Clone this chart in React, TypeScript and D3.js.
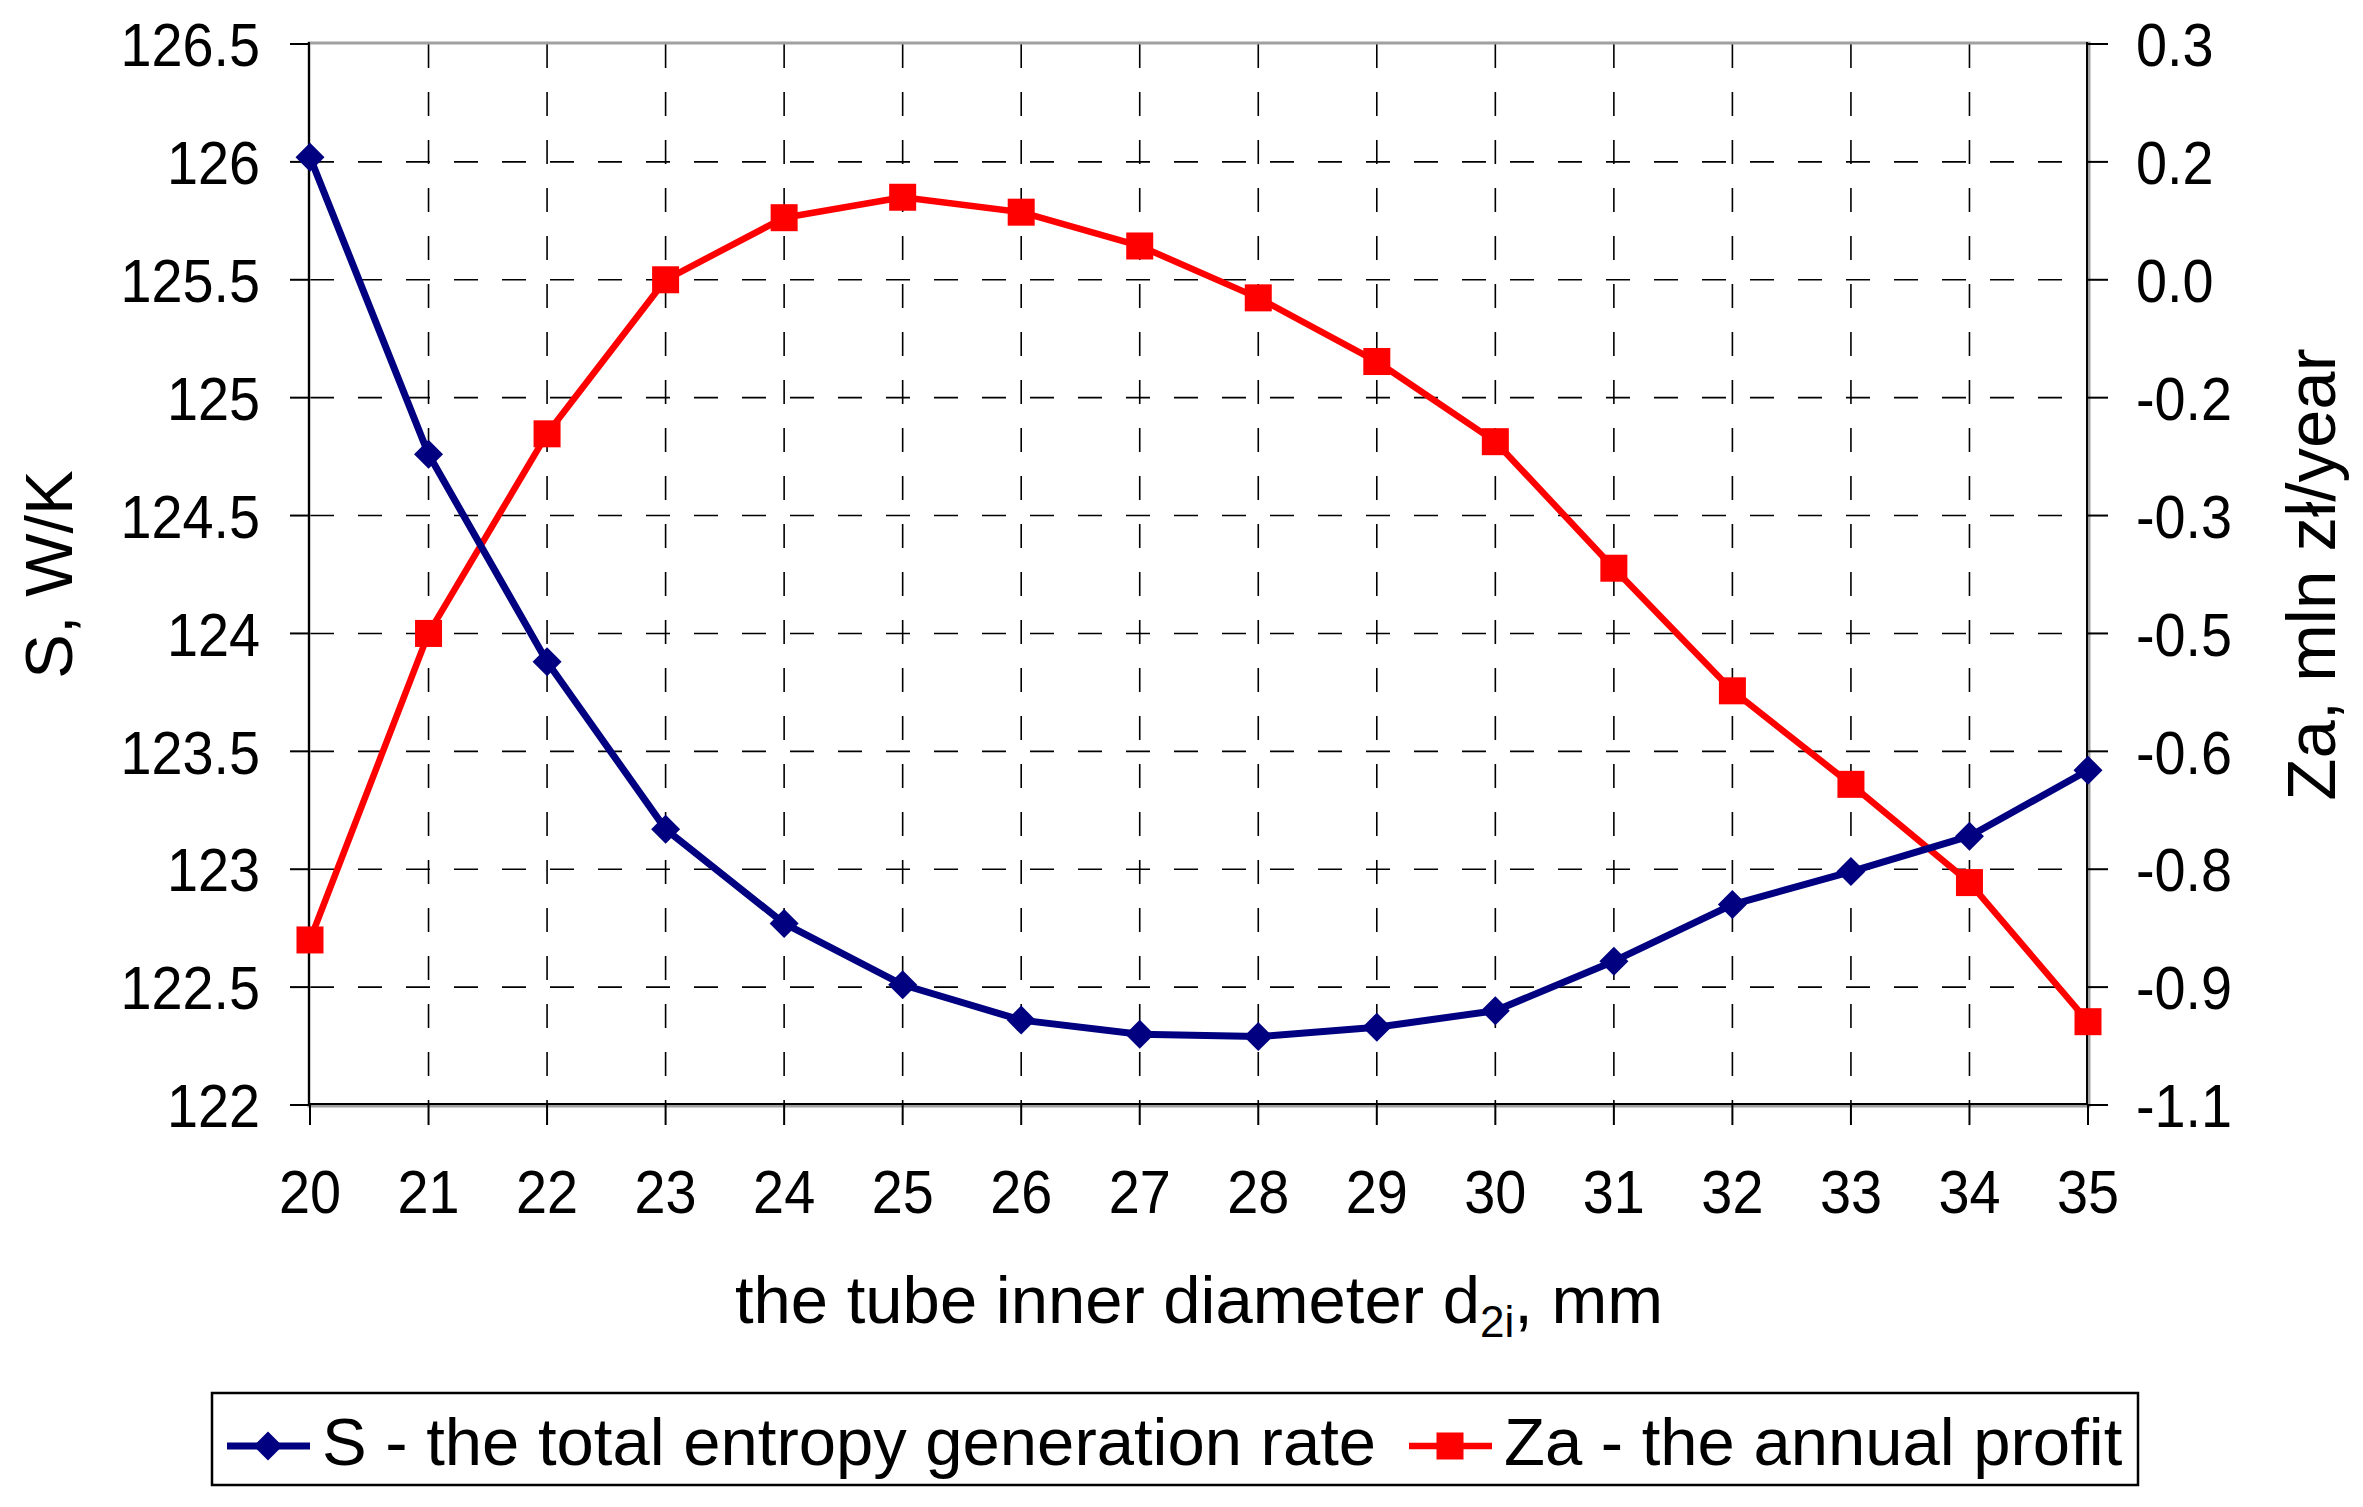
import React from "react";
import * as d3 from "d3";

const X_VALUES = [20, 21, 22, 23, 24, 25, 26, 27, 28, 29, 30, 31, 32, 33, 34, 35];
const S_VALUES = [126.02, 124.76, 123.88, 123.17, 122.77, 122.51, 122.36, 122.3, 122.29, 122.33, 122.4, 122.61, 122.85, 122.99, 123.14, 123.42];
const ZA_VALUES = [-0.84, -0.45, -0.196, 0.0, 0.079, 0.105, 0.086, 0.043, -0.023, -0.104, -0.206, -0.367, -0.523, -0.642, -0.767, -0.944];
const LEFT_TICKS = [122, 122.5, 123, 123.5, 124, 124.5, 125, 125.5, 126, 126.5];
const RIGHT_TICKS = [-1.05, -0.9, -0.75, -0.6, -0.45, -0.3, -0.15, 0, 0.15, 0.3];
const RIGHT_TICK_LABELS = ["-1.1", "-0.9", "-0.8", "-0.6", "-0.5", "-0.3", "-0.2", "0.0", "0.2", "0.3"];
const S_LABEL = "S - the total entropy generation rate";
const ZA_LABEL = "Za - the annual profit";

const W = 2363;
const H = 1507;
const L = 310, R = 2088, T = 44, B = 1105;
const FONT = "'Liberation Sans', Arial, sans-serif";
const NAVY = "#000080";
const RED = "#FF0000";

export default function App() {
  const x = d3.scaleLinear().domain([20, 35]).range([L, R]);
  const yL = d3.scaleLinear().domain([122, 126.5]).range([B, T]);
  const yR = d3.scaleLinear().domain([-1.05, 0.3]).range([B, T]);

  const lineS = d3.line<number>().x((_, i) => x(X_VALUES[i])).y((d) => yL(d));
  const lineZ = d3.line<number>().x((_, i) => x(X_VALUES[i])).y((d) => yR(d));

  const tickFs = 62;
  const titleFs = 67;
  const diamond = (cx: number, cy: number, r: number) =>
    `M${cx},${cy - r}L${cx + r},${cy}L${cx},${cy + r}L${cx - r},${cy}Z`;

  return (
    <svg width={W} height={H} style={{ position: "absolute", left: 0, top: 0, display: "block", background: "#fff" }} fontFamily={FONT}>
      <rect x={0} y={0} width={W} height={H} fill="#fff" />
      {/* gridlines */}
      <g stroke="#000" strokeWidth={1.6} strokeDasharray="24 24" fill="none">
        {X_VALUES.slice(1, -1).map((v) => (
          <line key={"vx" + v} x1={x(v)} x2={x(v)} y1={T} y2={B} />
        ))}
        {LEFT_TICKS.slice(1, -1).map((v) => (
          <line key={"hy" + v} x1={L} x2={R} y1={yL(v)} y2={yL(v)} />
        ))}
      </g>
      {/* plot border gray */}
      <rect x={L - 1} y={T - 1} width={R - L + 2} height={B - T + 2} fill="none" stroke="#a0a0a0" strokeWidth={3} />
      {/* axes */}
      <g stroke="#000" strokeWidth={2}>
        <line x1={L - 1} x2={L - 1} y1={T - 2} y2={B} />
        <line x1={L} x2={R} y1={B - 1} y2={B - 1} />
        <line x1={R - 1} x2={R - 1} y1={T - 2} y2={B} />
        {LEFT_TICKS.map((v) => (
          <line key={"lt" + v} x1={L - 20} x2={L} y1={yL(v)} y2={yL(v)} />
        ))}
        {RIGHT_TICKS.map((v) => (
          <line key={"rt" + v} x1={R} x2={R + 20} y1={yR(v)} y2={yR(v)} />
        ))}
        {X_VALUES.map((v) => (
          <line key={"xt" + v} x1={x(v)} x2={x(v)} y1={B} y2={B + 20} />
        ))}
      </g>
      {/* tick labels */}
      <g fontSize={tickFs} fill="#000">
        {LEFT_TICKS.map((v) => (
          <text key={"ll" + v} transform={`translate(${260},${yL(v) + 0.358 * tickFs}) scale(0.9,1)`} textAnchor="end">
            {String(v)}
          </text>
        ))}
        {RIGHT_TICKS.map((v, i) => (
          <text key={"rl" + v} transform={`translate(${2136},${yR(v) + 0.358 * tickFs}) scale(0.9,1)`} textAnchor="start">
            {RIGHT_TICK_LABELS[i]}
          </text>
        ))}
        {X_VALUES.map((v) => (
          <text key={"xl" + v} transform={`translate(${x(v)},${1213}) scale(0.9,1)`} textAnchor="middle">
            {String(v)}
          </text>
        ))}
      </g>
      {/* axis titles */}
      <text x={(L + R) / 2} y={1323} fontSize={titleFs} textAnchor="middle" fill="#000">
        the tube inner diameter d<tspan fontSize={44} dy={14}>2i</tspan>
        <tspan dy={-14}>, mm</tspan>
      </text>
      <text transform={`translate(${72},${(T + B) / 2}) rotate(-90)`} fontSize={titleFs} textAnchor="middle" fill="#000">
        S, W/K
      </text>
      <text transform={`translate(${2335},${(T + B) / 2}) rotate(-90)`} fontSize={titleFs + 2} textAnchor="middle" fill="#000">
        Za, mln zł/year
      </text>
      {/* series */}
      <path d={lineZ(ZA_VALUES) || ""} fill="none" stroke={RED} strokeWidth={6.5} strokeLinejoin="round" />
      {ZA_VALUES.map((v, i) => (
        <rect key={"zm" + i} x={x(X_VALUES[i]) - 13.5} y={yR(v) - 13.5} width={27} height={27} fill={RED} />
      ))}
      <path d={lineS(S_VALUES) || ""} fill="none" stroke={NAVY} strokeWidth={7} strokeLinejoin="round" />
      {S_VALUES.map((v, i) => (
        <path key={"sm" + i} d={diamond(x(X_VALUES[i]), yL(v), 14.5)} fill={NAVY} />
      ))}
      {/* legend */}
      <rect x={212} y={1393} width={1926} height={92} fill="#fff" stroke="#000" strokeWidth={2.5} />
      <line x1={227} x2={310} y1={1446} y2={1446} stroke={NAVY} strokeWidth={7} />
      <path d={diamond(268, 1446, 14.5)} fill={NAVY} />
      <text x={322} y={1465} fontSize={titleFs} fill="#000">{S_LABEL}</text>
      <line x1={1409} x2={1492} y1={1446} y2={1446} stroke={RED} strokeWidth={6.5} />
      <rect x={1450 - 13.5} y={1446 - 13.5} width={27} height={27} fill={RED} />
      <text x={1504} y={1465} fontSize={titleFs} fill="#000">{ZA_LABEL}</text>
    </svg>
  );
}
